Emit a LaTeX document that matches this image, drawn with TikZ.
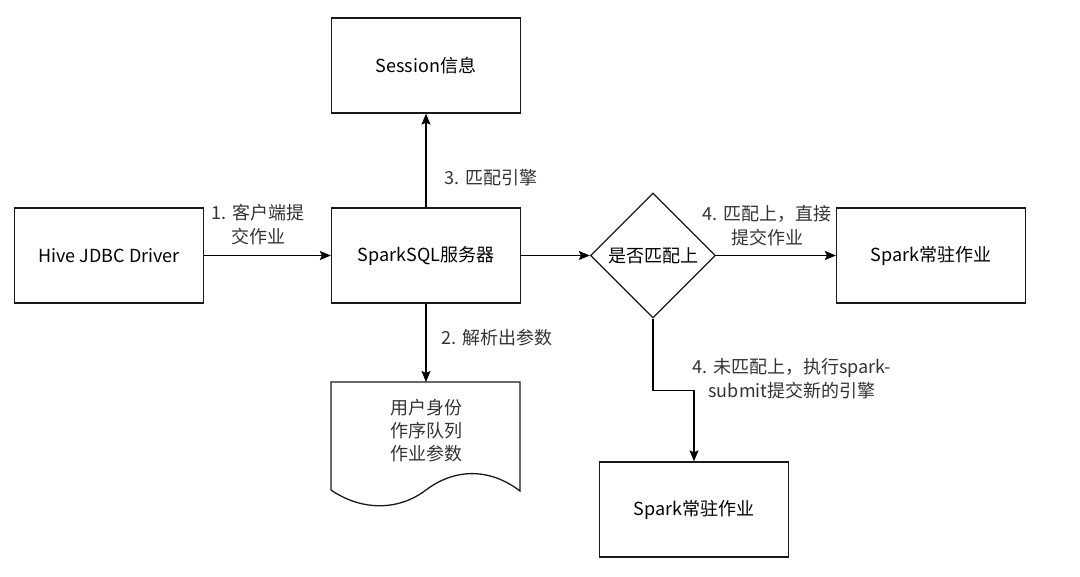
\documentclass[tikz,border=0pt]{standalone}
\usepackage{fontspec}
\setmainfont{Noto Sans CJK SC}
\usetikzlibrary{arrows.meta,shapes.geometric}

\begin{document}
\begin{tikzpicture}[x=1pt,y=-1pt,>={Stealth[length=11pt,width=9pt,inset=2pt]},
    font=\fontsize{18}{24}\selectfont,line width=1.3pt]
  \tikzstyle{block}=[rectangle,draw=black!90,minimum width=189pt,minimum height=95pt,
              inner sep=0pt]
  \tikzstyle{decision}=[diamond,draw=black!90,minimum width=125pt,minimum height=125pt,
              inner sep=0pt]
  \tikzstyle{lbl}=[align=center,inner sep=0pt,text=black!80]
  \useasboundingbox (0,0) rectangle (1080,577);

  % boxes
  \node [block] (hive) at (109,255.5) {Hive JDBC Driver};
  \node [block] (sql) at (426,255.5) {SparkSQL服务器};
  \node [block] (sess) at (426,65.5) {Session信息};
  \node [decision] (match) at (653,255.5) {是否匹配上};
  \node [block] (resident) at (931,255.5) {Spark常驻作业};
  \node [block] (newjob) at (694,509.5) {Spark常驻作业};

  % document with wavy bottom
  \draw [draw=black!90] (331,382) -- (520,382) -- (520,491)
     .. controls (490,468) and (455,468) .. (426,490)
     .. controls (397,512) and (360,510) .. (331,490) -- cycle;
  \node [rectangle,minimum width=189pt,minimum height=108pt,anchor=north] (doc) at (426,382) {};
  \node [lbl,font=\fontsize{18}{23}\selectfont] (params) at (426,431) {用户身份\\作序队列\\作业参数};

  % connectors
  \draw [->] (hive) -- (sql);
  \draw [->] (sql) -- (sess);
  \draw [->] (sql) -- (doc.north);
  \draw [->] (sql) -- (match);
  \draw [->] (match) -- (resident);
  \draw [->] (match.south) -- ++(0,72) -| (newjob.north);

  % edge labels
  \node [lbl] (l1) at (258,225) {1. 客户端提\\交作业};
  \node [lbl] (l3) at (491,178) {3. 匹配引擎};
  \node [lbl] (l2) at (497,338) {2. 解析出参数};
  \node [lbl] (l4a) at (767,226) {4. 匹配上，直接\\提交作业};
  \node [lbl] (l4b) at (792,379) {4. 未匹配上，执行spark-\\submit提交新的引擎};
\end{tikzpicture}
\end{document}
